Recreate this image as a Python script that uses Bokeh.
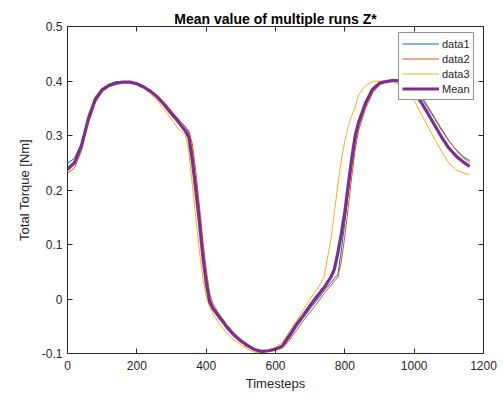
from bokeh.plotting import figure
from bokeh.models import Range1d, LinearAxis, FixedTicker, Legend, LegendItem
from bokeh.embed import file_html
from bokeh.resources import INLINE

timesteps = [0, 20, 40, 60, 80, 100, 120, 140, 160, 180, 200, 220, 240, 260, 280, 300, 320, 340,
             350, 360, 370, 380, 390, 400, 410, 420, 440, 460, 480, 500, 520, 540, 560, 580, 600,
             620, 640, 660, 680, 700, 720, 740, 760, 770, 780, 790, 800, 810, 820, 830, 840, 860,
             880, 900, 920, 940, 960, 980, 1000, 1020, 1040, 1060, 1080, 1100, 1120, 1140, 1160]

data1 = [0.249, 0.258, 0.285, 0.330, 0.365, 0.383, 0.394, 0.399, 0.399, 0.398, 0.395, 0.389, 0.381,
         0.371, 0.358, 0.343, 0.330, 0.315, 0.305, 0.270, 0.215, 0.160, 0.095, 0.040, 0.000, -0.015,
         -0.032, -0.050, -0.064, -0.076, -0.085, -0.092, -0.096, -0.095, -0.093, -0.088, -0.072,
         -0.052, -0.035, -0.018, -0.002, 0.015, 0.030, 0.038, 0.045, 0.090, 0.140, 0.195, 0.245,
         0.290, 0.318, 0.355, 0.382, 0.395, 0.400, 0.402, 0.402, 0.397, 0.386, 0.370, 0.350, 0.330,
         0.309, 0.290, 0.275, 0.262, 0.254]

data2 = [0.231, 0.240, 0.272, 0.322, 0.360, 0.380, 0.390, 0.394, 0.397, 0.398, 0.396, 0.390, 0.383,
         0.373, 0.360, 0.345, 0.330, 0.316, 0.308, 0.285, 0.235, 0.175, 0.110, 0.055, 0.010, -0.010,
         -0.030, -0.047, -0.062, -0.074, -0.083, -0.091, -0.095, -0.096, -0.094, -0.090, -0.076,
         -0.058, -0.040, -0.024, -0.008, 0.010, 0.025, 0.033, 0.040, 0.070, 0.115, 0.170, 0.225,
         0.275, 0.310, 0.350, 0.378, 0.393, 0.399, 0.401, 0.402, 0.398, 0.388, 0.373, 0.353, 0.332,
         0.311, 0.291, 0.274, 0.260, 0.250]

data3 = [0.235, 0.248, 0.283, 0.338, 0.372, 0.385, 0.390, 0.394, 0.397, 0.397, 0.393, 0.386, 0.376,
         0.363, 0.347, 0.330, 0.312, 0.300, 0.270, 0.210, 0.150, 0.090, 0.040, 0.005, -0.015, -0.028,
         -0.048, -0.063, -0.075, -0.084, -0.092, -0.098, -0.099, -0.095, -0.089, -0.079, -0.060,
         -0.040, -0.020, 0.000, 0.018, 0.040, 0.110, 0.160, 0.210, 0.255, 0.290, 0.318, 0.337,
         0.352, 0.375, 0.392, 0.399, 0.400, 0.400, 0.399, 0.393, 0.381, 0.365, 0.340, 0.316, 0.292,
         0.270, 0.250, 0.237, 0.232, 0.228]

mean = [0.238, 0.250, 0.281, 0.330, 0.366, 0.384, 0.392, 0.396, 0.398, 0.398, 0.395, 0.389, 0.381,
        0.370, 0.356, 0.340, 0.325, 0.308, 0.297, 0.255, 0.200, 0.144, 0.080, 0.030, -0.005, -0.018,
        -0.035, -0.052, -0.066, -0.077, -0.086, -0.093, -0.096, -0.095, -0.092, -0.086, -0.067,
        -0.047, -0.030, -0.012, 0.005, 0.021, 0.040, 0.055, 0.085, 0.120, 0.160, 0.210, 0.258,
        0.300, 0.325, 0.360, 0.385, 0.396, 0.399, 0.401, 0.400, 0.393, 0.380, 0.361, 0.340, 0.318,
        0.296, 0.277, 0.263, 0.252, 0.243]

x_ticks = [0, 200, 400, 600, 800, 1000, 1200]
y_ticks = [-0.1, 0, 0.1, 0.2, 0.3, 0.4, 0.5]
y_tick_labels = ["-0.1", "0", "0.1", "0.2", "0.3", "0.4", "0.5"]

FONT = "Liberation Sans"
AX = "#262626"

p = figure(width=503, height=397, output_backend="svg", toolbar_location=None,
           x_range=Range1d(0, 1200), y_range=Range1d(-0.1, 0.5),
           min_border_left=67, min_border_right=20, min_border_top=26, min_border_bottom=44,
           x_axis_label="Timesteps", y_axis_label="Total Torque [Nm]")
p.xgrid.visible = False
p.ygrid.visible = False
p.outline_line_color = AX
p.outline_line_width = 1
p.background_fill_color = "white"
p.border_fill_color = "white"

p.title.text = "Mean value of multiple runs Z*"
p.title.text_font = FONT
p.title.text_font_size = "14px"
p.title.text_font_style = "bold"
p.title.text_color = "black"
p.title.align = "center"
p.title.offset = 0
p.title.standoff = 0

def style_axis(ax, labels=True):
    ax.axis_line_color = AX
    ax.major_tick_line_color = AX
    ax.major_tick_in = 5
    ax.major_tick_out = 0
    ax.minor_tick_line_color = None
    ax.major_label_text_font = FONT
    ax.major_label_text_font_size = "12px"
    ax.major_label_text_color = AX
    ax.axis_label_text_font = FONT
    ax.axis_label_text_font_size = "13px"
    ax.axis_label_text_font_style = "normal"
    ax.axis_label_text_color = AX
    if not labels:
        ax.major_label_text_color = None
        ax.major_label_text_alpha = 0
        ax.major_label_standoff = 0

p.xaxis.ticker = FixedTicker(ticks=x_ticks)
p.yaxis.ticker = FixedTicker(ticks=y_ticks)
p.yaxis.major_label_overrides = {t: l for t, l in zip(y_ticks, y_tick_labels)}
style_axis(p.xaxis[0])
style_axis(p.yaxis[0])
p.xaxis.major_label_standoff = 7
p.xaxis.axis_label_standoff = 3
p.yaxis.major_label_standoff = 5
p.yaxis.axis_label_standoff = 7

top = LinearAxis(ticker=FixedTicker(ticks=x_ticks))
right = LinearAxis(ticker=FixedTicker(ticks=y_ticks))
style_axis(top, labels=False)
style_axis(right, labels=False)
p.add_layout(top, "above")
p.add_layout(right, "right")

r1 = p.line(timesteps, data1, line_color="#0072BD", line_width=1)
r2 = p.line(timesteps, data2, line_color="#D95319", line_width=1)
r3 = p.line(timesteps, data3, line_color="#EDB120", line_width=1)
rm = p.line(timesteps, mean, line_color="#7E2F8E", line_width=3.2)

legend = Legend(items=[LegendItem(label="data1", renderers=[r1]),
                       LegendItem(label="data2", renderers=[r2]),
                       LegendItem(label="data3", renderers=[r3]),
                       LegendItem(label="Mean", renderers=[rm])],
                location=(331, 253))
legend.label_text_font = FONT
legend.label_text_font_size = "11px"
legend.label_text_color = AX
legend.glyph_width = 37
legend.glyph_height = 15
legend.label_height = 15
legend.label_standoff = 3
legend.spacing = 0
legend.padding = 3
legend.margin = 0
legend.border_line_color = AX
legend.border_line_width = 1
legend.background_fill_alpha = 1
p.add_layout(legend, "center")

open("out.html", "w").write(file_html(p, INLINE))
